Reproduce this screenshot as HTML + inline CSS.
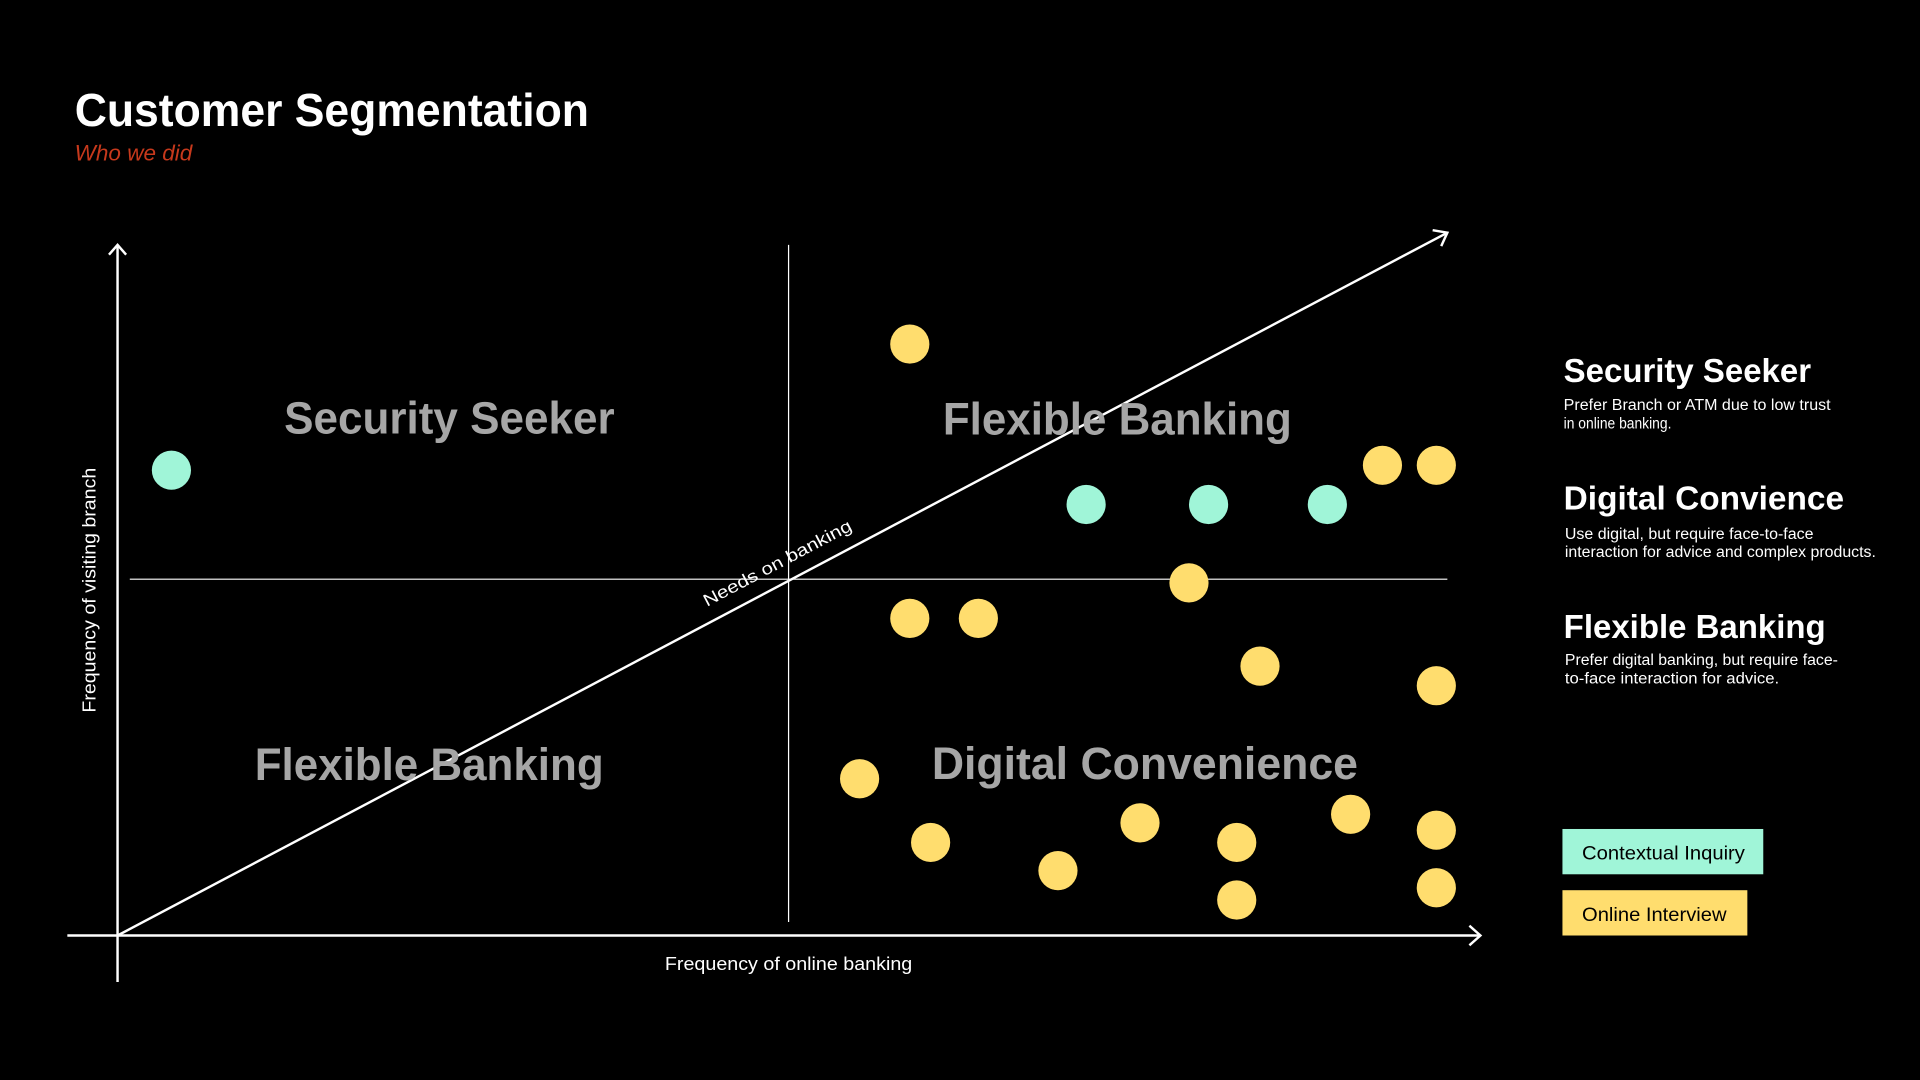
<!DOCTYPE html>
<html><head><meta charset="utf-8"><style>
html,body{margin:0;padding:0;background:#000;width:1920px;height:1080px;overflow:hidden}
svg{display:block}
text{font-family:"Liberation Sans",sans-serif}
</style></head><body>
<svg width="1920" height="1080" viewBox="0 0 1568 882" xmlns="http://www.w3.org/2000/svg">
<rect width="1568" height="882" fill="#000"/>
<text x="61" y="103" font-size="38" font-weight="bold" fill="#fff" textLength="420" lengthAdjust="spacingAndGlyphs">Customer Segmentation</text>
<text x="61" y="131" font-size="18" font-style="italic" fill="#c7391c" textLength="96" lengthAdjust="spacingAndGlyphs">Who we did</text>

<g stroke="#fff" fill="none">
<line x1="96" y1="200" x2="96" y2="802" stroke-width="2"/>
<polyline points="89,208 96,200 103,208" stroke-width="2"/>
<line x1="55" y1="764" x2="1209" y2="764" stroke-width="2"/>
<polyline points="1200,756 1209,764 1200,772" stroke-width="2"/>
<line x1="644" y1="200" x2="644" y2="753" stroke-width="1"/>
<line x1="106" y1="473" x2="1182" y2="473" stroke-width="1"/>
<line x1="96" y1="764" x2="1182" y2="190" stroke-width="2"/>
<polyline points="1170,188 1182,190 1177,201" stroke-width="2"/>
</g>
<text transform="translate(637,464) rotate(-27.9)" text-anchor="middle" font-size="14" fill="#fff" textLength="135" lengthAdjust="spacingAndGlyphs">Needs on banking</text>
<text transform="translate(78,482) rotate(-90)" text-anchor="middle" font-size="15" fill="#fff" textLength="200" lengthAdjust="spacingAndGlyphs">Frequency of visiting branch</text>
<text x="644" y="792" text-anchor="middle" font-size="15" fill="#fff" textLength="202" lengthAdjust="spacingAndGlyphs">Frequency of online banking</text>

<g font-size="37" font-weight="bold" fill="#a6a6a6">
<text x="232" y="354" textLength="270" lengthAdjust="spacingAndGlyphs">Security Seeker</text>
<text x="770" y="355" textLength="285" lengthAdjust="spacingAndGlyphs">Flexible Banking</text>
<text x="208" y="637" textLength="285" lengthAdjust="spacingAndGlyphs">Flexible Banking</text>
<text x="761" y="636" textLength="348" lengthAdjust="spacingAndGlyphs">Digital Convenience</text>
</g>

<g fill="#a0f5d8">
<circle cx="140" cy="384" r="16"/><circle cx="887" cy="412" r="16"/><circle cx="987" cy="412" r="16"/><circle cx="1084" cy="412" r="16"/>
</g>
<g fill="#ffdd6e">
<circle cx="743" cy="281" r="16"/><circle cx="1129" cy="380" r="16"/><circle cx="1173" cy="380" r="16"/><circle cx="971" cy="476" r="16"/>
<circle cx="743" cy="505" r="16"/><circle cx="799" cy="505" r="16"/><circle cx="1029" cy="544" r="16"/><circle cx="1173" cy="560" r="16"/>
<circle cx="702" cy="636" r="16"/><circle cx="760" cy="688" r="16"/><circle cx="864" cy="711" r="16"/><circle cx="931" cy="672" r="16"/>
<circle cx="1010" cy="688" r="16"/><circle cx="1103" cy="665" r="16"/><circle cx="1173" cy="678" r="16"/><circle cx="1010" cy="735" r="16"/>
<circle cx="1173" cy="725" r="16"/>
</g>

<g fill="#fff">
<text x="1277" y="312" font-size="27" font-weight="bold" textLength="202" lengthAdjust="spacingAndGlyphs">Security Seeker</text>
<text x="1277" y="335" font-size="12.5" textLength="218" lengthAdjust="spacingAndGlyphs">Prefer Branch or ATM due to low trust</text>
<text x="1277" y="350" font-size="12.5" textLength="88" lengthAdjust="spacingAndGlyphs">in online banking.</text>
<text x="1277" y="416" font-size="27" font-weight="bold" textLength="229" lengthAdjust="spacingAndGlyphs">Digital Convience</text>
<text x="1278" y="440" font-size="12.5" textLength="203" lengthAdjust="spacingAndGlyphs">Use digital, but require face-to-face</text>
<text x="1278" y="455" font-size="12.5" textLength="254" lengthAdjust="spacingAndGlyphs">interaction for advice and complex products.</text>
<text x="1277" y="521" font-size="27" font-weight="bold" textLength="214" lengthAdjust="spacingAndGlyphs">Flexible Banking</text>
<text x="1278" y="543" font-size="12.5" textLength="223" lengthAdjust="spacingAndGlyphs">Prefer digital banking, but require face-</text>
<text x="1278" y="558" font-size="12.5" textLength="175" lengthAdjust="spacingAndGlyphs">to-face interaction for advice.</text>
</g>

<rect x="1276" y="677" width="164" height="37" fill="#a0f5d8"/>
<text x="1292" y="702" font-size="15.5" fill="#000" textLength="133" lengthAdjust="spacingAndGlyphs">Contextual Inquiry</text>
<rect x="1276" y="727" width="151" height="37" fill="#ffdd6e"/>
<text x="1292" y="752" font-size="15.5" fill="#000" textLength="118" lengthAdjust="spacingAndGlyphs">Online Interview</text>
</svg>
</body></html>
